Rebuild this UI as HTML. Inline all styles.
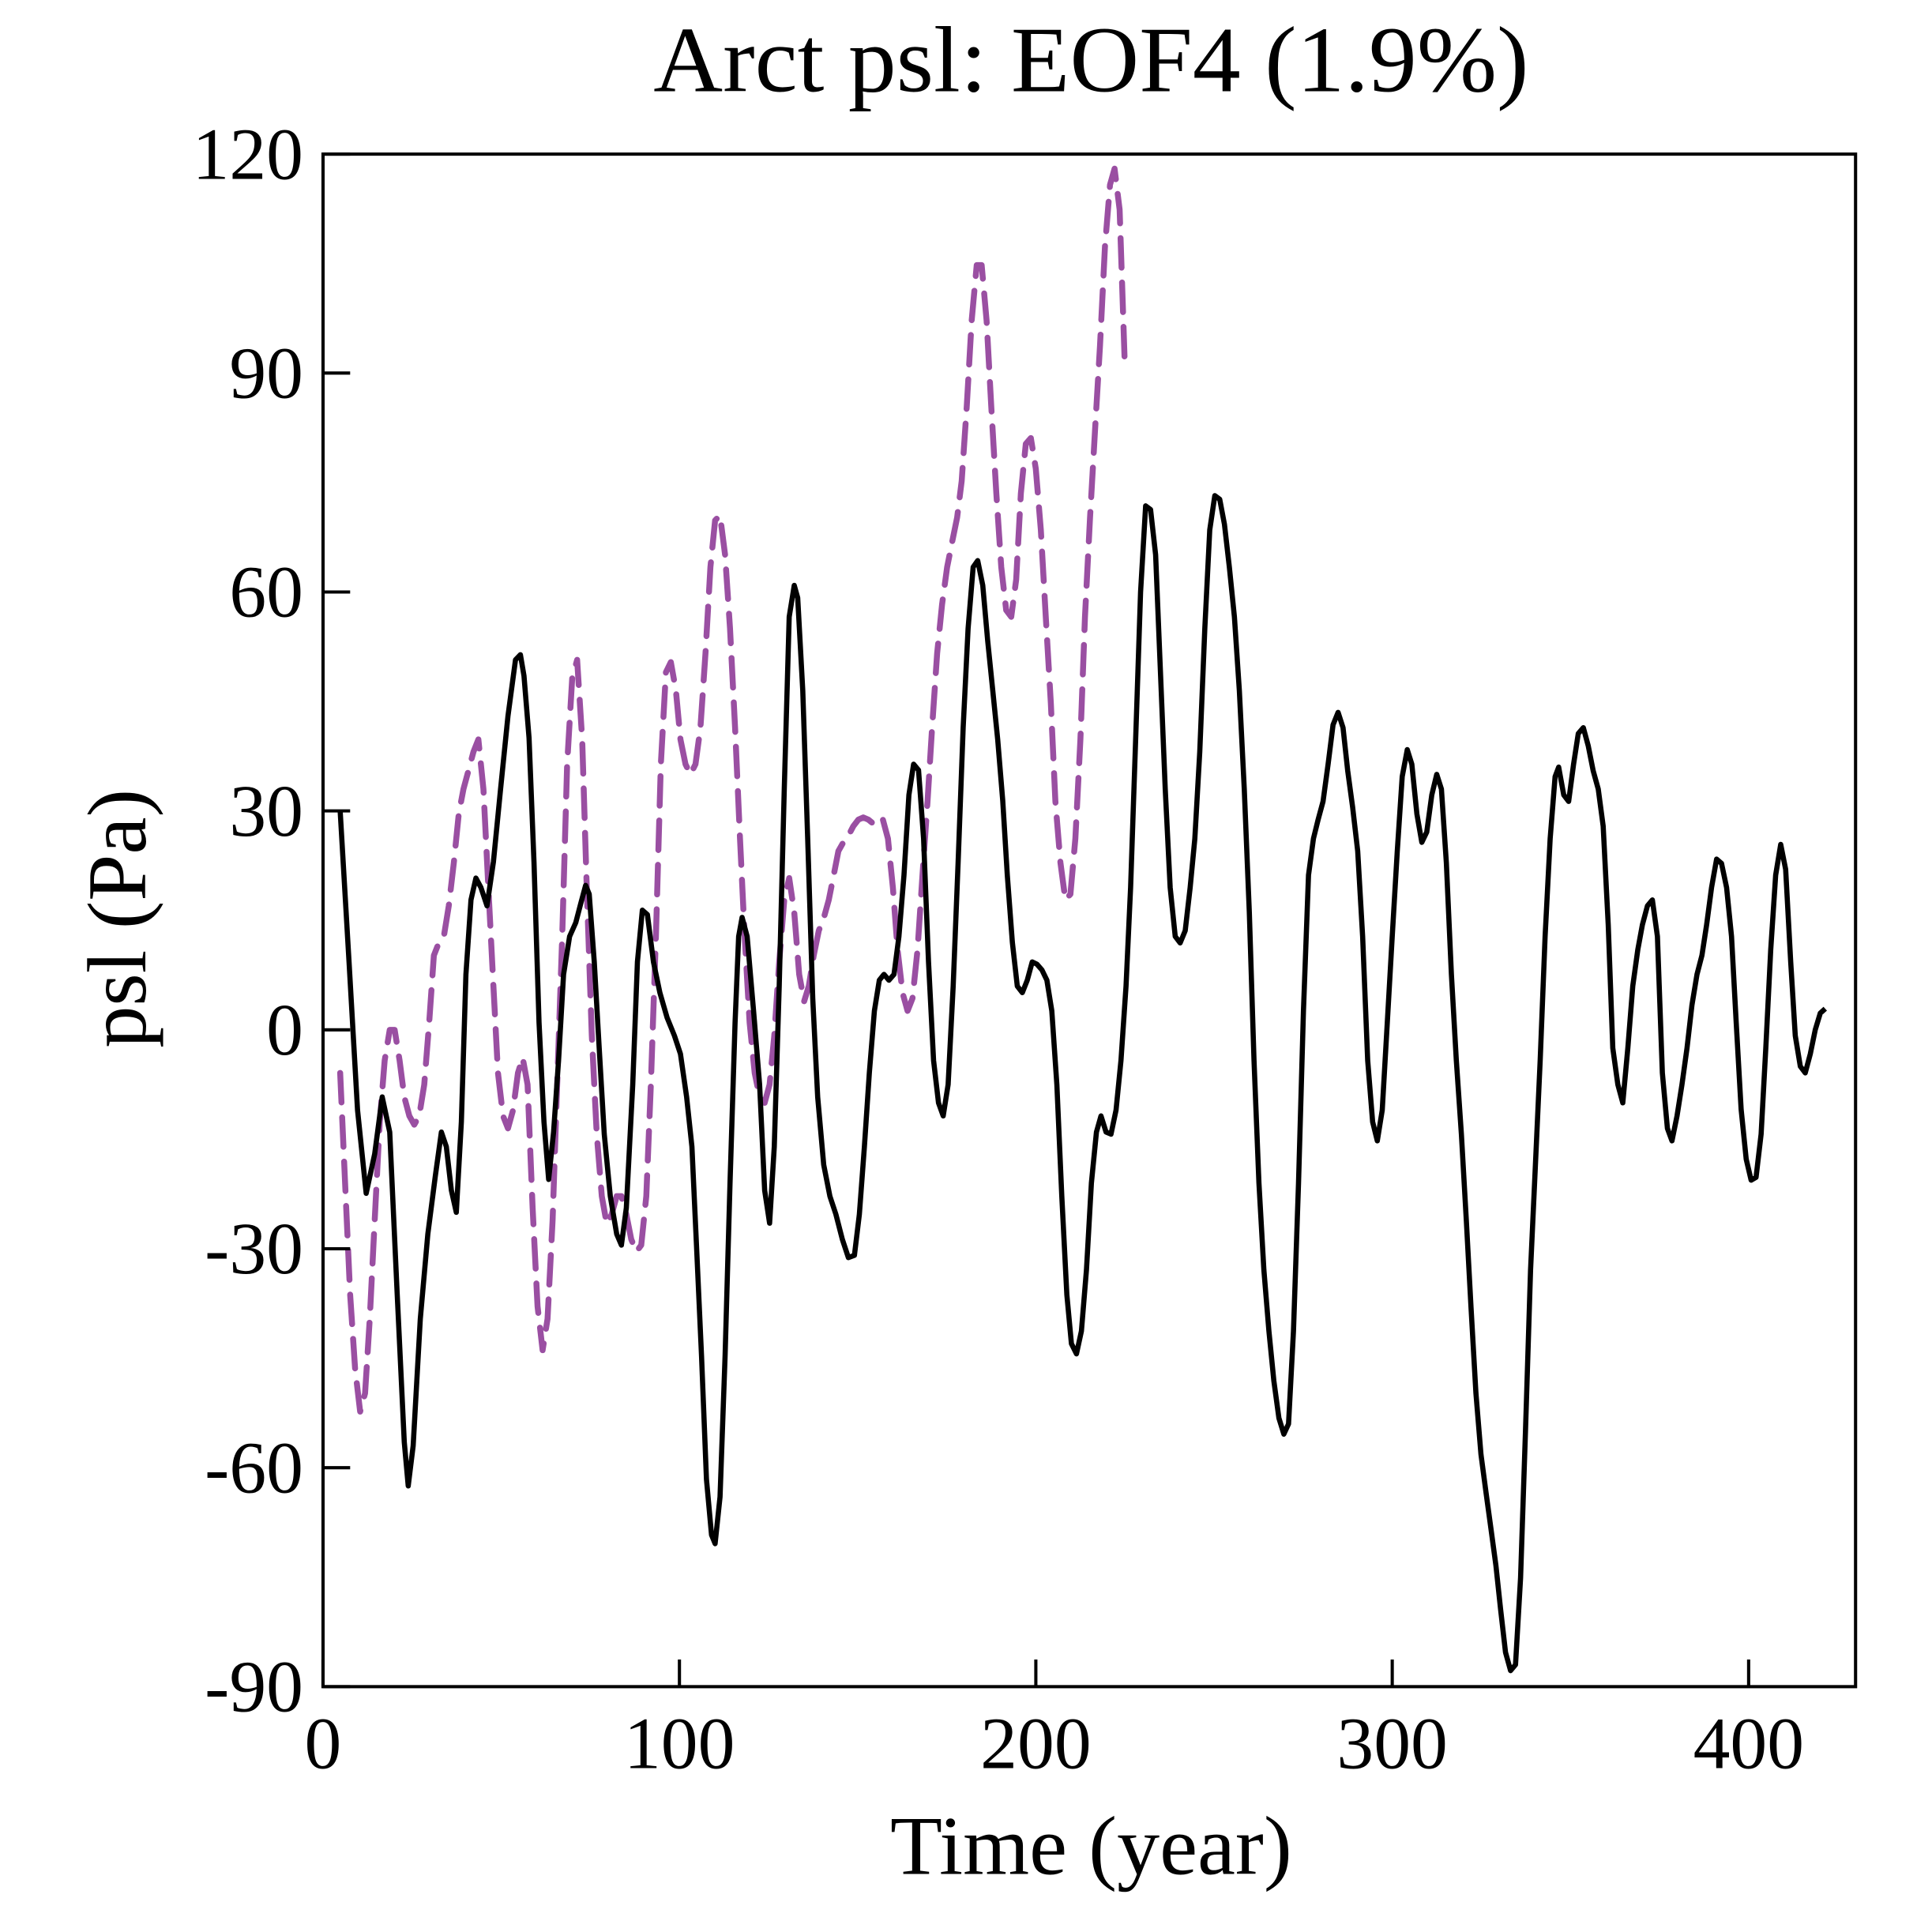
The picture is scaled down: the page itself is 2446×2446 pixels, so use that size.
<!DOCTYPE html>
<html><head><meta charset="utf-8"><title>Arct psl: EOF4</title>
<style>html,body{margin:0;padding:0;background:#fff;}svg{display:block;}</style></head>
<body>
<svg id="chart" width="2446" height="2446" viewBox="0 0 1567 1567" xmlns="http://www.w3.org/2000/svg" font-family="'Liberation Serif', serif">
<rect width="1567" height="1567" fill="#fff"/>
<text x="885" y="74" text-anchor="middle" font-size="76" textLength="710" lengthAdjust="spacingAndGlyphs">Arct psl: EOF4 (1.9%)</text>
<g id="plot"></g>
<text x="885" y="1520" text-anchor="middle" font-size="68" textLength="326" lengthAdjust="spacingAndGlyphs">Time (year)</text>
<text transform="translate(118,745) rotate(-90)" text-anchor="middle" font-size="68" textLength="210" lengthAdjust="spacingAndGlyphs">psl (Pa)</text>
</svg>
<script>
const blackYears=[4.8,7.3,9.7,12.1,14.5,16.6,18.7,20.8,22.8,23.9,25.3,27.3,29.4,31.5,33.2,34.6,36,37.4,38.8,40.1,41.5,42.9,44.3,46,47.8,49.8,51.9,54,55.4,56.4,57.8,59.2,60.6,62,63.3,64.7,66.1,67.5,69.2,70.9,72.3,73.7,74.7,76.1,77.5,78.9,80.6,82.4,83.7,85.1,86.9,88.2,89.6,91,92.7,94.5,96.5,98.6,100.3,102,103.5,104.8,106.2,107.6,109,110,111.4,112.8,114.2,115.6,116.6,117.6,119,120.8,122.5,123.9,125.3,126.6,128,129.4,130.8,132.2,133.2,134.6,136,137.4,138.8,140.5,142.2,143.9,145.7,147.4,149.1,150.5,151.9,153.3,154.7,156.1,157.4,158.8,160.2,161.6,163,164.4,165.7,167.1,168.5,169.9,171.3,172.7,174,175.4,176.8,178.2,179.6,181,182.4,183.7,185.1,186.5,187.9,189.3,190.7,192,193.4,194.8,196.2,197.6,199,200.3,201.7,203.1,204.5,205.9,207.3,208.7,210,211.4,212.8,214.2,215.6,217,218.3,219.7,221.1,222.5,223.9,225.3,226.6,228,229.4,230.8,232.2,233.6,234.9,236.3,237.7,239.1,240.5,241.9,243.3,244.6,246,247.4,248.8,250.2,251.6,252.9,254.3,255.7,257.1,258.5,259.9,261.2,262.6,264,265.4,266.8,268.2,269.6,270.9,272.3,273.7,275.1,276.5,277.9,279.2,280.6,282,283.4,284.8,286.2,287.5,288.9,290.3,291.7,293.1,294.5,295.8,297.2,298.6,300,301.4,302.8,304.2,305.5,306.9,308.3,309.7,311.1,312.5,313.8,315.2,316.6,318,319.4,320.8,322.1,323.5,324.9,326.3,327.7,329.1,330.4,331.8,333.2,334.6,336,337.4,338.8,340.1,341.5,342.9,344.3,345.7,346.7,348.1,349.5,350.9,352.2,353.6,355,356.4,357.8,359.2,360.6,361.9,363.3,364.7,366.1,367.5,368.9,370.2,371.6,373,374.4,375.8,377.2,378.5,379.9,381.3,382.7,384.1,385.5,386.9,388.2,389.6,391,392.4,393.8,395.2,396.5,397.9,399.3,400.7,402.1,403.5,404.8,406.2,407.6,409,410.4,411.8,413.1,414.5,415.9,417.3,418.7,420.1,421.5];
const blackValues=[30,9.3,-11,-22.4,-17,-9.2,-14,-36,-56.5,-62.5,-57,-39.6,-28,-20,-14,-16,-22,-25,-12.6,7.6,17.8,20.8,19.5,17,23,33,43,50.7,51.4,48.5,40,23,1,-12.6,-20.5,-14,-4,7.6,12.8,14.7,17.3,19.8,18.6,9.3,-2.5,-14.3,-22.8,-28,-29.5,-24.4,-7.5,9.3,16.4,15.8,9.3,5.1,1.7,-0.8,-3.3,-9.2,-16,-29.5,-44.7,-61.6,-69.2,-70.4,-64,-44.7,-21,1,12.8,15.4,12.8,2.6,-7.5,-22,-26.5,-16,6,33,56.6,60.9,59.2,46.5,26.2,4.3,-9.2,-18.5,-22.8,-25.3,-28.7,-31.2,-30.9,-25.3,-16,-5.9,2.6,6.8,7.6,6.8,7.6,12.8,21.2,32.2,36.4,35.6,26.2,9.3,-4.2,-10,-11.8,-7.5,6,22.9,41.4,55,63.4,64.3,60.9,53.3,46.5,39.8,31.4,21.2,12,6,5.1,6.8,9.3,9,8.2,6.8,2.6,-7.5,-22.8,-36.3,-43,-44.4,-41.3,-32.9,-21,-14,-11.8,-14,-14.3,-11,-4.2,6,19.5,39.8,60,71.8,71.3,65.1,49.9,33,19.5,12.8,11.9,13.6,19.5,26.2,38.1,55,68.5,73.2,72.7,69.3,63.4,56.6,46.5,33,16.1,-4.2,-21,-32.9,-41.3,-48.1,-53.2,-55.4,-54,-41.3,-21,2.6,21.2,26.2,28.8,31.3,36.4,41.8,43.5,41.4,35.5,30.5,24.5,12.8,-4.2,-12.6,-15.2,-11,1,12.8,24.5,34.7,38.4,36.4,29.6,25.7,27.1,32.2,35,33,22.9,7.6,-4.2,-14.3,-26.1,-38,-49.8,-58.2,-63.3,-68.4,-73.4,-79.4,-85.3,-87.8,-87,-75.1,-54.9,-32.9,-19.4,-4.2,12.8,26.2,34.7,36,32.2,31.3,36.4,40.6,41.4,38.9,35.5,33,27.9,14.4,-2.5,-7.5,-10,-2.5,6,11,14.4,17,17.8,12.8,-5.9,-13.5,-15.2,-11.8,-7.5,-2.5,3.4,7.6,10.2,14.4,19.5,23.4,22.8,19.5,12.8,1,-10.9,-17.7,-20.6,-20.2,-14.3,-2.5,11,21.2,25.4,22,9.3,-0.8,-5,-5.9,-3.3,0,2.3,2.9];
const purpleYears=[4.8,6.2,7.6,9,10.4,11.8,13.1,14.5,15.9,17.3,18.7,20.1,21.5,22.8,24.2,25.6,27,28.4,29.8,31.1,32.5,33.9,35.3,36.7,38.1,39.4,40.8,42.2,43.6,45,46.4,47.8,49.1,50.5,51.9,53.3,54.7,56,57.4,58.8,60.2,61.6,63,64.4,65.7,67.1,68.5,69.9,71.3,72.7,74,75.4,76.8,78.2,79.6,81,82.4,83.7,85.1,86.5,87.9,89.3,90.7,92,93.4,94.8,96.2,97.6,99,100.3,101.7,103.1,104.5,105.9,107.3,108.7,110,111.4,112.8,114.2,115.6,117,118.3,119.7,121.1,122.5,123.9,125.3,126.6,128,129.4,130.8,132.2,133.6,135,136.3,137.7,139.1,140.5,141.9,143.3,144.6,146,147.4,148.8,150.2,151.6,153,154.3,155.7,157.1,158.5,159.9,161.2,162.6,164,165.4,166.8,168.2,169.6,170.9,172.3,173.7,175.1,176.5,177.9,179.2,180.6,182,183.4,184.8,186.2,187.5,188.9,190.3,191.7,193.1,194.5,195.8,197.2,198.6,200,201.4,202.8,204.2,205.5,206.9,208.3,209.7,211.1,212.5,213.8,215.2,216.6,218,219.4,220.8,222.1,223.5,224.9];
const purpleValues=[-5.9,-21,-36.3,-46.4,-52.3,-49.8,-39.6,-26.1,-12.6,-4.2,0,0,-4.2,-9.2,-11.8,-13,-11.8,-7.5,1,10.2,11.9,12.8,17,22.9,29.6,33,35.5,38.1,39.8,33,19.5,6,-5.9,-11.8,-13.5,-11,-5.9,-3.8,-7.5,-24.4,-37.9,-43.9,-39.6,-26.1,-7.5,12.8,36.4,48.2,50.7,39.8,19.5,-0.8,-14.3,-22.8,-26.6,-25.3,-22.8,-22.8,-25.3,-28.7,-30.4,-29.5,-22.8,-7.5,12.8,36.4,49,50.4,46.5,39.8,36.4,35,36.4,41.4,51.6,63.4,69.8,70.5,65.1,55,41.4,26.2,12.8,1,-5.9,-9.2,-10,-7.5,-0.8,9.3,17.8,20.8,16.1,7.6,3.9,6,10.2,13.6,15.3,17.8,21.2,24.5,25.7,26.6,27.9,28.8,29.1,28.8,28.3,29.1,28.8,26.2,19.5,11,5.1,2.6,4.3,11,21.2,31.3,41.4,51.6,58.3,63.4,66.8,70.2,75.2,85.4,97.2,104.8,104.8,97.2,85.4,73.5,63.4,57.5,56.6,61.7,73.5,80.3,81.1,76.9,68.5,56.6,44.8,31.3,22.9,17.8,18.6,26.2,39.8,56.6,70.2,82,93.8,107.3,115.8,118,112.4,92.1];
const xTicks=[0,100,200,300,400];
const yTicks=[-90,-60,-30,0,30,60,90,120];
const xTickLabels=["0","100","200","300","400"];
const yTickLabels=["-90","-60","-30","0","30","60","90","120"];

const NS="http://www.w3.org/2000/svg";
const L=262,R=1505,T=125,B=1368;
const xMin=0,xMax=430,yMin=-90,yMax=120;
function xs(v){return L+(v-xMin)/(xMax-xMin)*(R-L);}
function ys(v){return B-(v-yMin)/(yMax-yMin)*(B-T);}
const g=document.getElementById('plot');
function mk(tag,attrs){const e=document.createElementNS(NS,tag);for(const k in attrs)e.setAttribute(k,attrs[k]);g.appendChild(e);return e;}

function pathFrom(xa,ya){return xa.map((x,i)=>(i?'L':'M')+xs(x).toFixed(1)+','+ys(ya[i]).toFixed(1)).join(' ');}
const pl=mk('path',{d:pathFrom(purpleYears,purpleValues),fill:'none',stroke:'#9a4fa2','stroke-width':4.8,'stroke-dasharray':'24 12','stroke-linecap':'round','stroke-linejoin':'round'});


const bl=mk('path',{d:pathFrom(blackYears,blackValues),fill:'none',stroke:'#000','stroke-width':4.2,'stroke-linejoin':'round'});



const frame=mk('rect',{x:L,y:T,width:R-L,height:B-T,fill:'none',stroke:'#000','stroke-width':2.6});



xTicks.forEach((v,i)=>{
  const t=mk('line',{x1:xs(v),x2:xs(v),y1:B,y2:B-22,stroke:'#000','stroke-width':2.6});
  
  
  const lb=mk('text',{x:xs(v),y:1434,'text-anchor':'middle','font-size':60});
  lb.textContent=xTickLabels[i];
  
  
});
yTicks.forEach((v,i)=>{
  const t=mk('line',{x1:L,x2:L+22,y1:ys(v),y2:ys(v),stroke:'#000','stroke-width':2.6});
  
  
  const lb=mk('text',{x:246,y:ys(v)+20,'text-anchor':'end','font-size':60});
  lb.textContent=yTickLabels[i];
  
  
});
</script>
</body></html>
